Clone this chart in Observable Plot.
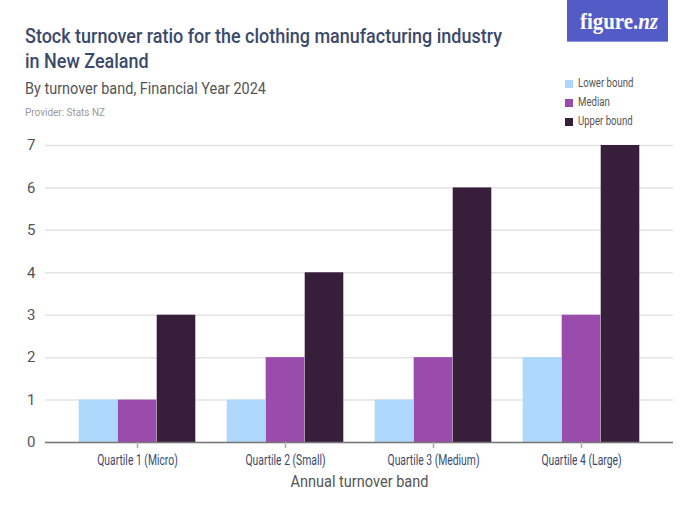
<!DOCTYPE html>
<html><head><meta charset="utf-8">
<script src="https://cdn.jsdelivr.net/npm/d3@7"></script>
<script src="https://cdn.jsdelivr.net/npm/@observablehq/plot@0.6"></script>
<style>
body{margin:0;background:#fff;font-family:Roboto,sans-serif;}
#wrap{position:relative;width:700px;height:525px;overflow:hidden;}
.t{position:absolute;white-space:nowrap;transform-origin:0 50%;display:inline-block;}
.title{left:25px;font-size:20px;line-height:25px;color:#3b4a6b;font-weight:500;}
#sub{left:25px;top:77px;font-size:17px;line-height:22px;color:#555;}
#prov{left:25px;top:106px;font-size:11px;line-height:14px;color:#999;}
#logo{position:absolute;left:567px;top:0;width:101px;height:41px;background:#535cc6;border-bottom:1px solid #9096dd;}
#logotext{position:absolute;left:580px;top:8px;color:#fff;font-family:"Liberation Serif","DejaVu Serif",serif;font-weight:bold;font-size:24px;line-height:26px;transform-origin:0 50%;white-space:nowrap;}
.sq{position:absolute;left:565px;width:8px;height:8px;}
.lg{left:578px;font-size:12px;line-height:14px;color:#555;}
#chart{position:absolute;left:0;top:135px;}
</style></head>
<body><div id="wrap">
<div id="logo"></div>
<div id="logotext">figure.<i>nz</i></div>
<div class="t title" id="t1" style="top:24px">Stock turnover ratio for the clothing manufacturing industry</div>
<div class="t title" id="t2" style="top:49px">in New Zealand</div>
<div class="t" id="sub">By turnover band, Financial Year 2024</div>
<div class="t" id="prov">Provider: Stats NZ</div>
<div id="chart"></div>
</div>
<script>
const categories = ["Quartile 1 (Micro)", "Quartile 2 (Small)", "Quartile 3 (Medium)", "Quartile 4 (Large)"];
const seriesNames = ["Lower bound", "Median", "Upper bound"];
const lowerBound = [1, 1, 1, 2];
const median = [1, 2, 2, 3];
const upperBound = [3, 4, 6, 7];
const yTicks = [0, 1, 2, 3, 4, 5, 6, 7];
const colors = ["#aed8fb", "#994cab", "#371f3c"];

const condense = 0.8;
function fit(el, w) { const r = el.getBoundingClientRect().width; el.style.transform = `scaleX(${w / r})`; }

const wrap = document.getElementById("wrap");
seriesNames.forEach((s, i) => {
  const sq = document.createElement("div");
  sq.className = "sq";
  sq.style.top = (80 + i * 19) + "px";
  sq.style.background = colors[i];
  wrap.appendChild(sq);
  const d = document.createElement("div");
  d.className = "t lg";
  d.style.top = (76 + i * 19) + "px";
  d.textContent = s;
  wrap.appendChild(d);
});

const seriesValues = [lowerBound, median, upperBound];
const barW = 39;
const marks = [
  Plot.gridY(yTicks, {stroke: "#e3e3e3", strokeOpacity: 1, strokeWidth: 1.5})
];
seriesValues.forEach((vals, i) => {
  const data = categories.map((c, j) => ({c, v: vals[j]}));
  marks.push(Plot.barY(data, {x: "c", y: "v", fill: colors[i], insetLeft: i * barW - 0.3, insetRight: (2 - i) * barW - 0.3}));
});
marks.push(Plot.ruleY([0], {stroke: "#777", strokeWidth: 1.5}));

const plot = Plot.plot({
  width: 700, height: 390,
  marginLeft: 45, marginRight: 27, marginTop: 10, marginBottom: 83,
  style: {fontFamily: "Roboto,sans-serif", fontSize: "13px", color: "#3b4a6b"},
  x: {domain: categories, padding: 0.215, label: null},
  y: {domain: [0, 7], label: null},
  marks: [
    ...marks,
    Plot.axisX({domain: categories, tickSize: 6, tickPadding: 7, stroke: "#aaa", strokeWidth: 1.5, fill: "#3b4a6b", fontSize: 14, label: null}),
    Plot.axisY({ticks: yTicks, tickFormat: "d", tickSize: 0, tickPadding: 10, fill: "#555", fontSize: 15, label: null}),
    Plot.text(["Annual turnover band"], {frameAnchor: "bottom", dy: 44, fontSize: 17, fill: "#555", className: "xlab"})
  ]
});
document.getElementById("chart").appendChild(plot);

// emulate the reference's condensed typeface
d3.select(plot).selectAll("g[aria-label='x-axis tick label'] text").each(function() {
  const w = this.getComputedTextLength();
  this.setAttribute("textLength", w * 0.74);
  this.setAttribute("lengthAdjust", "spacingAndGlyphs");
});
d3.select(plot).selectAll(".xlab text").each(function() {
  this.setAttribute("textLength", 138);
  this.setAttribute("lengthAdjust", "spacingAndGlyphs");
});
fit(document.getElementById("t1"), 477);
document.getElementById("t2").style.transform = document.getElementById("t1").style.transform;
fit(document.getElementById("sub"), 241);
fit(document.getElementById("prov"), 80);
fit(document.getElementById("logotext"), 78);
document.querySelectorAll(".lg").forEach(el => el.style.transform = `scaleX(${condense})`);
</script>
</body></html>
